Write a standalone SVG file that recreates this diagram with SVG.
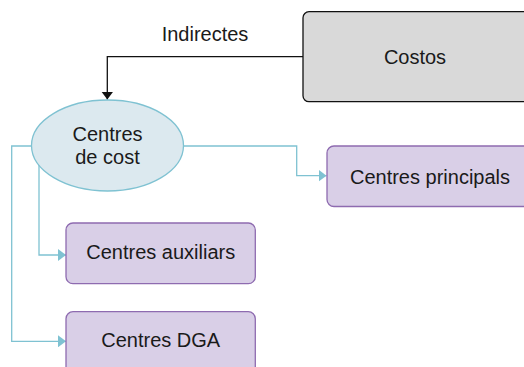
<svg xmlns="http://www.w3.org/2000/svg" width="524" height="367" viewBox="0 0 524 367">
<style>
  text { font-family: "Liberation Sans", Arial, sans-serif; font-size: 20px; fill: #1a1a1a; text-anchor: middle; }
  .box { fill: #d9cfe7; stroke: #8e6bb0; stroke-width: 1.3; }
  .conn { fill: none; stroke: #7fc2d2; stroke-width: 1.3; }
  .black { fill: none; stroke: #111; stroke-width: 1.3; }
</style>
<defs>
  <marker id="tealArrow" viewBox="0 0 8 12" refX="8" refY="6" markerWidth="8" markerHeight="12" markerUnits="userSpaceOnUse" orient="auto">
    <path d="M0,0 L8,6 L0,12 Z" fill="#7fc2d2"/>
  </marker>
  <marker id="blackArrow" viewBox="0 0 8 12" refX="8" refY="6" markerWidth="8" markerHeight="12" markerUnits="userSpaceOnUse" orient="auto">
    <path d="M0,0 L8,6 L0,12 Z" fill="#111"/>
  </marker>
</defs>
<g id="connectors">
  <path class="black" d="M303,56.7 H107.3 V99.5" marker-end="url(#blackArrow)"/>
  <text x="205" y="40.5">Indirectes</text>
  <path class="conn" d="M183.3,146 H296.7 V175.7 H326.5" marker-end="url(#tealArrow)"/>
  <path class="conn" d="M39,165 V255 H66" marker-end="url(#tealArrow)"/>
  <path class="conn" d="M31.7,146 H11.7 V341.3 H66" marker-end="url(#tealArrow)"/>
</g>
<g id="costos">
  <rect x="303" y="11.7" width="228" height="90" rx="6" fill="#d9d9d9" stroke="#111" stroke-width="1.3"/>
  <text x="415" y="64">Costos</text>
</g>
<g id="centres-de-cost">
  <ellipse cx="107.5" cy="145.5" rx="76" ry="45.5" fill="#dce9ef" stroke="#7fc2d2" stroke-width="1.3"/>
  <text x="107.5" y="140.5">Centres</text>
  <text x="107.5" y="164">de cost</text>
</g>
<g id="centres-principals">
  <rect class="box" x="327" y="146" width="210" height="60.5" rx="7"/>
  <text x="430" y="184.3">Centres principals</text>
</g>
<g id="centres-auxiliars">
  <rect class="box" x="66" y="223" width="189.3" height="60.7" rx="7"/>
  <text x="160.7" y="259.3">Centres auxiliars</text>
</g>
<g id="centres-dga">
  <rect class="box" x="66" y="311.7" width="189.3" height="70" rx="7"/>
  <text x="160.7" y="347.3">Centres DGA</text>
</g>
</svg>
